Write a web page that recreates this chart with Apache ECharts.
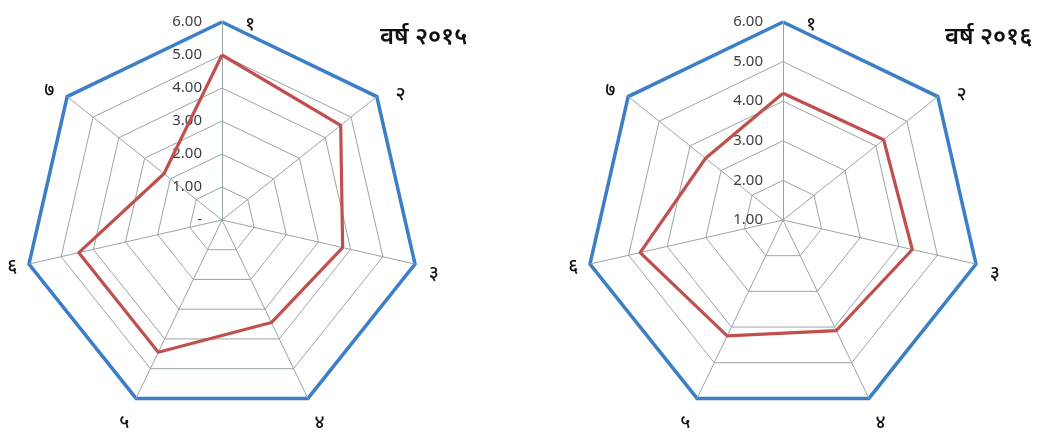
<!DOCTYPE html>
<html><head><meta charset="utf-8">
<script src="https://cdn.jsdelivr.net/npm/echarts@6/dist/echarts.min.js"></script>
<style>html,body{margin:0;padding:0;background:#fff}#c{width:1038px;height:432px}</style>
</head><body><div id="c"></div>
<script>
const axisNames = ['१', '२', '३', '४', '५', '६', '७'];
const values2015 = [5.0, 4.6, 3.75, 3.45, 4.45, 4.45, 2.25];
const values2016 = [4.2, 4.25, 4.35, 4.1, 4.25, 4.7, 3.5];
const ticks2015 = ['-', '1.00', '2.00', '3.00', '4.00', '5.00', '6.00'];
const ticks2016 = ['1.00', '2.00', '3.00', '4.00', '5.00', '6.00'];
const titles = ['वर्ष २०१५', 'वर्ष २०१६'];

const FONT = "'Noto Sans', 'DejaVu Sans', sans-serif";
const GRID = '#9aa5a8';
const BLUE = '#3d7fc6';
const RED = '#c0504d';

// ECharts lays indicators out counter-clockwise; the reference runs clockwise.
const ORDER = [0, 6, 5, 4, 3, 2, 1];
const NAME_GAP = [0, 20, 14, 27, 27, 12, 10];
const NAME_STYLE = [
  { align: 'left', verticalAlign: 'top', lineHeight: 6, padding: [0, 0, 0, 23] },
  { verticalAlign: 'top', lineHeight: 22, padding: [0, 0, 0, 3] },
  { verticalAlign: 'top', lineHeight: 12 },
  { align: 'center' },
  { align: 'center' },
  {},
  { padding: [0, 5, 0, 0] }
];

function makeIndicators(min, max, ticks, showNames) {
  return ORDER.map((j) => ({
    name: showNames ? axisNames[j] : '',
    min: min, max: max,
    nameGap: NAME_GAP[j],
    nameTextStyle: Object.assign({}, NAME_STYLE[j]),
    axisLabel: {
      show: showNames && j === 0,
      fontSize: 15, color: '#404040', fontFamily: FONT,
      margin: 20,
      formatter: v => ticks[Math.round(v - min)]
    }
  }));
}

function reorder(vals) { return ORDER.map(j => vals[j]); }

function radarPair(center, min, max, ticks) {
  const split = max - min;
  return [
    {
      center: center, radius: 198, startAngle: 90, shape: 'polygon',
      splitNumber: split,
      indicator: makeIndicators(min, max, ticks, true),
      axisName: { color: '#111', fontSize: 19, fontWeight: 500, fontFamily: FONT },
      splitArea: { show: false },
      splitLine: { lineStyle: { color: GRID, width: 1 } },
      axisLine: { lineStyle: { color: GRID, width: 1 } },
      axisTick: { show: false }
    },
    {
      center: center, radius: 198, startAngle: 90, shape: 'polygon',
      splitNumber: 1,
      indicator: makeIndicators(min, max, ticks, false),
      splitArea: { show: false },
      splitLine: { lineStyle: { color: BLUE, width: 3.5 } },
      axisLine: { show: false },
      axisTick: { show: false },
      axisLabel: { show: false }
    }
  ];
}

const chart = echarts.init(document.getElementById('c'), null, { renderer: 'canvas' });
const radars = [].concat(radarPair([222, 220], 0, 6, ticks2015), radarPair([783, 220], 1, 6, ticks2016));
const titleStyle = { fontSize: 24, fontWeight: 600, color: '#111', fontFamily: FONT };
chart.setOption({
  backgroundColor: '#fff',
  animation: false,
  title: [
    { text: titles[0], left: 375, top: 20, textStyle: titleStyle },
    { text: titles[1], left: 940, top: 20, textStyle: titleStyle }
  ],
  radar: radars,
  series: [
    { type: 'radar', radarIndex: 0, symbol: 'none', z: 5,
      lineStyle: { color: RED, width: 3.2 },
      data: [{ value: reorder(values2015), name: '2015' }] },
    { type: 'radar', radarIndex: 2, symbol: 'none', z: 5,
      lineStyle: { color: RED, width: 3.2 },
      data: [{ value: reorder(values2016), name: '2016' }] }
  ]
});
</script></body></html>
